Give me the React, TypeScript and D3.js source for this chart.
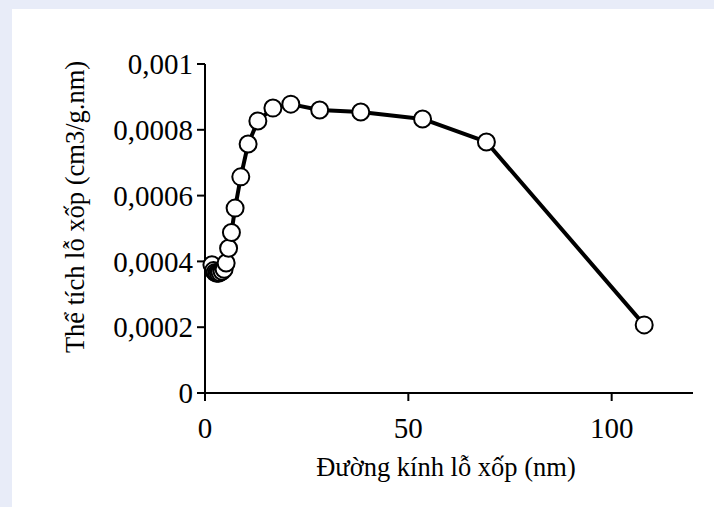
import React from "react";
import * as d3 from "d3";

const diameters = [1.7, 2.1, 2.5, 2.9, 3.3, 3.7, 4.2, 4.7, 5.2, 5.8, 6.5, 7.4, 8.8, 10.6, 13.0, 16.7, 21.1, 28.2, 38.3, 53.5, 69.2, 108];
const volumes = [0.00039, 0.000372, 0.000366, 0.000364, 0.000364, 0.000366, 0.00037, 0.000376, 0.000395, 0.00044, 0.000488, 0.000562, 0.000657, 0.000757, 0.000827, 0.000866, 0.000878, 0.00086, 0.000854, 0.000833, 0.000763, 0.000207];
const xTicks = [0, 50, 100];
const yTicks = [0, 0.0002, 0.0004, 0.0006, 0.0008, 0.001];
const xTitle = "Đường kính lỗ xốp (nm)";
const yTitle = "Thể tích lỗ xốp (cm3/g.nm)";

const W = 714;
const H = 507;
const FONT = "Liberation Serif, Times New Roman, serif";

export default function App() {
  React.useEffect(() => {
    document.body.style.margin = "0";
  }, []);
  const x = d3.scaleLinear().domain([0, 120]).range([205, 693]);
  const y = d3.scaleLinear().domain([0, 0.001]).range([393, 64]);
  const pts = diameters.map((d, i) => [d, volumes[i]] as [number, number]);
  const line = d3
    .line<[number, number]>()
    .x((d) => x(d[0]))
    .y((d) => y(d[1]));
  const fmt = (v: number) => (v === 0 ? "0" : String(+v.toFixed(4)).replace(".", ","));
  return (
    <svg width={W} height={H} style={{ display: "block" }}>
      <rect x={0} y={0} width={W} height={H} fill="#E8ECF8" />
      <rect x={12} y={9} width={W - 12} height={H - 9} fill="#FFFFFF" />
      <line x1={x(0)} x2={x(0)} y1={y(0.001)} y2={y(0)} stroke="#000" strokeWidth={2} />
      <line x1={x(0)} x2={x(120)} y1={y(0)} y2={y(0)} stroke="#000" strokeWidth={2} />
      {yTicks.map((t) => (
        <g key={"y" + t}>
          <line x1={x(0) - 8} x2={x(0)} y1={y(t)} y2={y(t)} stroke="#000" strokeWidth={2} />
          <text
            x={x(0) - 12}
            y={y(t)}
            dy="0.35em"
            textAnchor="end"
            fontFamily={FONT}
            fontSize={29}
            fill="#000"
          >
            {fmt(t)}
          </text>
        </g>
      ))}
      {xTicks.map((t) => (
        <g key={"x" + t}>
          <line x1={x(t)} x2={x(t)} y1={y(0)} y2={y(0) + 8} stroke="#000" strokeWidth={2} />
          <text x={x(t)} y={438} textAnchor="middle" fontFamily={FONT} fontSize={29} fill="#000">
            {t}
          </text>
        </g>
      ))}
      <text x={446} y={476} textAnchor="middle" fontFamily={FONT} fontSize={26.5} fill="#000">
        {xTitle}
      </text>
      <text
        transform={`translate(84, 207) rotate(-90)`}
        textAnchor="middle"
        fontFamily={FONT}
        fontSize={26.5}
        fill="#000"
      >
        {yTitle}
      </text>
      <path d={line(pts) || ""} fill="none" stroke="#000" strokeWidth={4} strokeLinejoin="round" />
      {pts.map((p, i) => (
        <circle key={i} cx={x(p[0])} cy={y(p[1])} r={8.5} fill="#fff" stroke="#000" strokeWidth={2} />
      ))}
    </svg>
  );
}
